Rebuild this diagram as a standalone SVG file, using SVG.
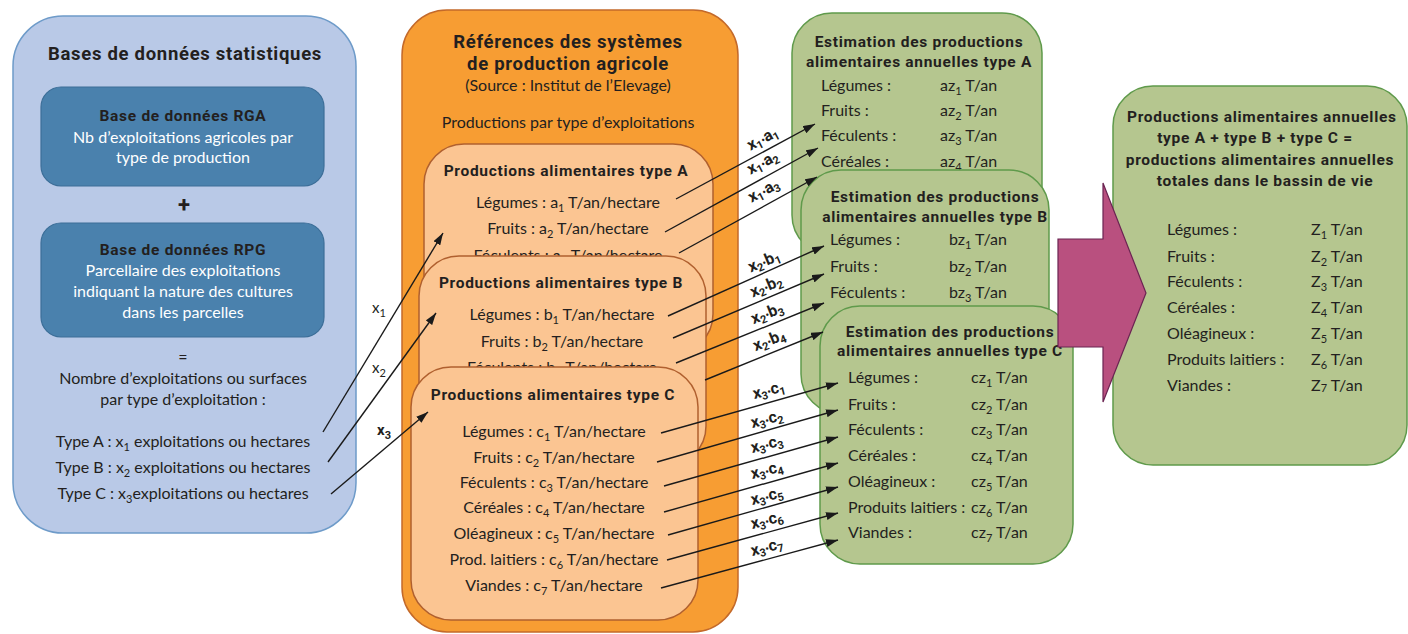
<svg xmlns="http://www.w3.org/2000/svg" width="1408" height="634" viewBox="0 0 1408 634">
<defs>
<marker id="ah" markerUnits="userSpaceOnUse" markerWidth="12" markerHeight="8" refX="12" refY="4" orient="auto">
<path d="M0,0 L12,4 L0,8 z" fill="#1a1a1a"/>
</marker>
<clipPath id="clipB4"><rect x="800" y="300" width="260" height="10"/></clipPath>
<style>
text{font-family:Lato,"Open Sans","Liberation Sans",sans-serif;fill:#231f20;font-size:16px}
.t1{font-family:Roboto,"Liberation Sans",sans-serif;font-weight:700;font-size:18.5px;letter-spacing:0.7px}
.t2{font-family:Roboto,"Liberation Sans",sans-serif;font-weight:700;font-size:15.5px;letter-spacing:0.7px}
.w{fill:#ffffff}
.c{text-anchor:middle}
.s{font-size:11px}
.plus{font-family:Roboto,"Liberation Sans",sans-serif;font-weight:700;font-size:22px}
.outerBlue{fill:#b9c9e7;stroke:#6e9bc9;stroke-width:1.5}
.innerBlue{fill:#4a81ad;stroke:#3c6e98;stroke-width:1.2}
.outerOr{fill:#f79d33;stroke:#c3692a;stroke-width:1.5}
.innerOr{fill:#fbc592;stroke:#b0602f;stroke-width:1.5}
.green{fill:#b5c68f;stroke:#5f9a4b;stroke-width:1.5}
.cn{stroke:#1a1a1a;stroke-width:1.4;fill:none;marker-end:url(#ah)}
.lb{font-family:Roboto,"Liberation Sans",sans-serif;font-weight:700;font-size:16px;text-anchor:middle}
.xl{font-size:15px}
.xb{font-family:Roboto,"Liberation Sans",sans-serif;font-weight:700;font-size:15px}
</style>
</defs>

<g id="bases">
<rect class="outerBlue" x="13" y="16" width="343" height="517" rx="50"/>
<text class="t1 c" x="185" y="60">Bases de données statistiques</text>
</g>
<g id="rga">
<rect class="innerBlue" x="41" y="87" width="283" height="99" rx="20"/>
<text class="t2 c" x="183" y="121">Base de données  RGA</text>
<text class="c w" x="183" y="143">Nb d’exploitations agricoles par</text>
<text class="c w" x="183" y="163">type de production</text>
</g>
<text class="plus c" x="184" y="212">+</text>
<g id="rpg">
<rect class="innerBlue" x="41" y="223" width="283" height="114" rx="20"/>
<text class="t2 c" x="183" y="255">Base de données RPG</text>
<text class="c w" x="183" y="276">Parcellaire des exploitations</text>
<text class="c w" x="183" y="297">indiquant la nature des cultures</text>
<text class="c w" x="183" y="318">dans les parcelles</text>
</g>
<g id="bases-result">
<text class="c" x="183" y="363">=</text>
<text class="c" x="183" y="384">Nombre d’exploitations ou surfaces</text>
<text class="c" x="183" y="405">par type d’exploitation :</text>
<text class="c" x="183" y="447">Type A : x<tspan class="s" dy="4">1</tspan><tspan dy="-4"> exploitations ou hectares</tspan></text>
<text class="c" x="183" y="473">Type B : x<tspan class="s" dy="4">2</tspan><tspan dy="-4"> exploitations ou hectares</tspan></text>
<text class="c" x="183" y="499">Type C : x<tspan class="s" dy="4">3</tspan><tspan dy="-4">exploitations ou hectares</tspan></text>
</g>

<g id="references">
<rect class="outerOr" x="402" y="10" width="336" height="622" rx="45"/>
<text class="t1 c" x="568" y="48">Références des systèmes</text>
<text class="t1 c" x="568" y="70">de production agricole</text>
<text class="c" x="568" y="91">(Source : Institut de l’Elevage)</text>
<text class="c" x="568" y="128">Productions par type d’exploitations</text>
</g>
<g id="prodA">
<rect class="innerOr" x="424" y="144" width="289" height="210" rx="40"/>
<text class="t2 c" x="566" y="176">Productions alimentaires type A</text>
<text class="c" x="568" y="208">Légumes : a<tspan class="s" dy="4">1</tspan><tspan dy="-4"> T/an/hectare</tspan></text>
<text class="c" x="568" y="234">Fruits : a<tspan class="s" dy="4">2</tspan><tspan dy="-4"> T/an/hectare</tspan></text>
<text class="c" x="568" y="261">Féculents : a<tspan class="s" dy="4">3</tspan><tspan dy="-4"> T/an/hectare</tspan></text>
</g>
<g id="prodB">
<rect class="innerOr" x="419" y="256" width="287" height="210" rx="40"/>
<text class="t2 c" x="561" y="288">Productions alimentaires type B</text>
<text class="c" x="562" y="320">Légumes : b<tspan class="s" dy="4">1</tspan><tspan dy="-4"> T/an/hectare</tspan></text>
<text class="c" x="562" y="347">Fruits : b<tspan class="s" dy="4">2</tspan><tspan dy="-4"> T/an/hectare</tspan></text>
<text class="c" x="562" y="373">Féculents : b<tspan class="s" dy="4">3</tspan><tspan dy="-4"> T/an/hectare</tspan></text>
</g>
<g id="prodC">
<rect class="innerOr" x="411" y="367" width="287" height="253" rx="40"/>
<text class="t2 c" x="553" y="400">Productions alimentaires type C</text>
<text class="c" x="554" y="437">Légumes : c<tspan class="s" dy="4">1</tspan><tspan dy="-4"> T/an/hectare</tspan></text>
<text class="c" x="554" y="463">Fruits : c<tspan class="s" dy="4">2</tspan><tspan dy="-4"> T/an/hectare</tspan></text>
<text class="c" x="554" y="488">Féculents : c<tspan class="s" dy="4">3</tspan><tspan dy="-4"> T/an/hectare</tspan></text>
<text class="c" x="554" y="513">Céréales : c<tspan class="s" dy="4">4</tspan><tspan dy="-4"> T/an/hectare</tspan></text>
<text class="c" x="554" y="539">Oléagineux : c<tspan class="s" dy="4">5</tspan><tspan dy="-4"> T/an/hectare</tspan></text>
<text class="c" x="554" y="565">Prod. laitiers : c<tspan class="s" dy="4">6</tspan><tspan dy="-4"> T/an/hectare</tspan></text>
<text class="c" x="554" y="591">Viandes : c<tspan class="s" dy="4">7</tspan><tspan dy="-4"> T/an/hectare</tspan></text>
</g>

<g id="estA">
<rect class="green" x="792" y="13" width="250" height="242" rx="40"/>
<text class="t2 c" x="919" y="47">Estimation des productions</text>
<text class="t2 c" x="919" y="67">alimentaires annuelles type A</text>
<text x="821" y="91">Légumes :</text><text x="940" y="91">az<tspan class="s" dy="4">1</tspan><tspan dy="-4"> T/an</tspan></text>
<text x="821" y="116">Fruits :</text><text x="940" y="116">az<tspan class="s" dy="4">2</tspan><tspan dy="-4"> T/an</tspan></text>
<text x="821" y="141">Féculents :</text><text x="940" y="141">az<tspan class="s" dy="4">3</tspan><tspan dy="-4"> T/an</tspan></text>
<text x="821" y="167">Céréales :</text><text x="940" y="167">az<tspan class="s" dy="4">4</tspan><tspan dy="-4"> T/an</tspan></text>
</g>
<g id="estB">
<rect class="green" x="801" y="170" width="248" height="244" rx="40"/>
<text class="t2 c" x="935" y="202">Estimation des productions</text>
<text class="t2 c" x="935" y="222">alimentaires annuelles type B</text>
<text x="830" y="245">Légumes :</text><text x="949" y="245">bz<tspan class="s" dy="4">1</tspan><tspan dy="-4"> T/an</tspan></text>
<text x="830" y="272">Fruits :</text><text x="949" y="272">bz<tspan class="s" dy="4">2</tspan><tspan dy="-4"> T/an</tspan></text>
<text x="830" y="298">Féculents :</text><text x="949" y="298">bz<tspan class="s" dy="4">3</tspan><tspan dy="-4"> T/an</tspan></text>
<text x="830" y="324" clip-path="url(#clipB4)">Céréales :</text>
</g>
<g id="estC">
<rect class="green" x="820" y="306" width="253" height="258" rx="40"/>
<text class="t2 c" x="950" y="337">Estimation des productions</text>
<text class="t2 c" x="950" y="356">alimentaires annuelles type C</text>
<text x="848" y="383">Légumes :</text><text x="971" y="383">cz<tspan class="s" dy="4">1</tspan><tspan dy="-4"> T/an</tspan></text>
<text x="848" y="410">Fruits :</text><text x="971" y="410">cz<tspan class="s" dy="4">2</tspan><tspan dy="-4"> T/an</tspan></text>
<text x="848" y="435">Féculents :</text><text x="971" y="435">cz<tspan class="s" dy="4">3</tspan><tspan dy="-4"> T/an</tspan></text>
<text x="848" y="461">Céréales :</text><text x="971" y="461">cz<tspan class="s" dy="4">4</tspan><tspan dy="-4"> T/an</tspan></text>
<text x="848" y="487">Oléagineux :</text><text x="971" y="487">cz<tspan class="s" dy="4">5</tspan><tspan dy="-4"> T/an</tspan></text>
<text x="848" y="513">Produits laitiers :</text><text x="971" y="513">cz<tspan class="s" dy="4">6</tspan><tspan dy="-4"> T/an</tspan></text>
<text x="848" y="538">Viandes :</text><text x="971" y="538">cz<tspan class="s" dy="4">7</tspan><tspan dy="-4"> T/an</tspan></text>
</g>

<g id="total">
<rect class="green" x="1113" y="86" width="294" height="379" rx="40"/>
<text class="t2" x="1127" y="122">Productions  alimentaires annuelles</text>
<text class="t2 c" x="1255" y="143">type A + type B + type C =</text>
<text class="t2 c" x="1260" y="165">productions alimentaires annuelles</text>
<text class="t2 c" x="1265" y="186">totales dans le bassin de vie</text>
<text x="1167" y="235">Légumes :</text><text x="1311" y="235">Z<tspan class="s" dy="4">1</tspan><tspan dy="-4"> T/an</tspan></text>
<text x="1167" y="262">Fruits :</text><text x="1311" y="262">Z<tspan class="s" dy="4">2</tspan><tspan dy="-4"> T/an</tspan></text>
<text x="1167" y="287">Féculents :</text><text x="1311" y="287">Z<tspan class="s" dy="4">3</tspan><tspan dy="-4"> T/an</tspan></text>
<text x="1167" y="313">Céréales :</text><text x="1311" y="313">Z<tspan class="s" dy="4">4</tspan><tspan dy="-4"> T/an</tspan></text>
<text x="1167" y="339">Oléagineux :</text><text x="1311" y="339">Z<tspan class="s" dy="4">5</tspan><tspan dy="-4"> T/an</tspan></text>
<text x="1167" y="365">Produits laitiers :</text><text x="1311" y="365">Z<tspan class="s" dy="4">6</tspan><tspan dy="-4"> T/an</tspan></text>
<text x="1167" y="391">Viandes :</text><text x="1311" y="391">Z<tspan class="s" dy="1">7</tspan><tspan dy="-1"> T/an</tspan></text>
</g>

<g id="bigArrow">
<path d="M1058,239 L1103,239 L1103,183 L1146,293 L1103,402 L1103,347 L1058,347 Z" fill="#b9507f" stroke="#6b2452" stroke-width="1.2"/>
</g>

<g id="connectors">
<line class="cn" x1="323" y1="432" x2="443" y2="233"/>
<line class="cn" x1="328" y1="462" x2="436" y2="313"/>
<line class="cn" x1="331" y1="494" x2="428" y2="412"/>
<text class="xl" x="372" y="313">x<tspan class="s" dy="4">1</tspan></text>
<text class="xl" x="372" y="373">x<tspan class="s" dy="4">2</tspan></text>
<text class="xb" x="377" y="435">x<tspan class="s" dy="4">3</tspan></text>

<line class="cn" x1="676" y1="199" x2="815" y2="124"/>
<line class="cn" x1="665" y1="232" x2="818" y2="148"/>
<line class="cn" x1="679" y1="253" x2="817" y2="177"/>
<line class="cn" x1="668" y1="316" x2="824" y2="246"/>
<line class="cn" x1="673" y1="338" x2="824" y2="274"/>
<line class="cn" x1="676" y1="363" x2="824" y2="303"/>
<line class="cn" x1="705" y1="380" x2="823" y2="332"/>
<line class="cn" x1="661" y1="433" x2="838" y2="383"/>
<line class="cn" x1="657" y1="462" x2="838" y2="410"/>
<line class="cn" x1="664" y1="486" x2="838" y2="437"/>
<line class="cn" x1="664" y1="512" x2="838" y2="463"/>
<line class="cn" x1="668" y1="535" x2="838" y2="487"/>
<line class="cn" x1="667" y1="560" x2="838" y2="513"/>
<line class="cn" x1="661" y1="588" x2="838" y2="540"/>

<text class="lb" transform="translate(765,143) rotate(-28)">x<tspan class="s" dy="3">1</tspan><tspan dy="-3" font-size="10">•</tspan>a<tspan class="s" dy="3">1</tspan></text>
<text class="lb" transform="translate(765,167) rotate(-28)">x<tspan class="s" dy="3">1</tspan><tspan dy="-3" font-size="10">•</tspan>a<tspan class="s" dy="3">2</tspan></text>
<text class="lb" transform="translate(766,195) rotate(-28)">x<tspan class="s" dy="3">1</tspan><tspan dy="-3" font-size="10">•</tspan>a<tspan class="s" dy="3">3</tspan></text>
<text class="lb" transform="translate(766,266) rotate(-23)">x<tspan class="s" dy="3">2</tspan><tspan dy="-3" font-size="10">•</tspan>b<tspan class="s" dy="3">1</tspan></text>
<text class="lb" transform="translate(768,291) rotate(-23)">x<tspan class="s" dy="3">2</tspan><tspan dy="-3" font-size="10">•</tspan>b<tspan class="s" dy="3">2</tspan></text>
<text class="lb" transform="translate(769,318) rotate(-22)">x<tspan class="s" dy="3">2</tspan><tspan dy="-3" font-size="10">•</tspan>b<tspan class="s" dy="3">3</tspan></text>
<text class="lb" transform="translate(771,345) rotate(-22)">x<tspan class="s" dy="3">2</tspan><tspan dy="-3" font-size="10">•</tspan>b<tspan class="s" dy="3">4</tspan></text>
<text class="lb" transform="translate(770,395) rotate(-14)">x<tspan class="s" dy="3">3</tspan><tspan dy="-3" font-size="10">•</tspan>c<tspan class="s" dy="3">1</tspan></text>
<text class="lb" transform="translate(768,424) rotate(-14)">x<tspan class="s" dy="3">3</tspan><tspan dy="-3" font-size="10">•</tspan>c<tspan class="s" dy="3">2</tspan></text>
<text class="lb" transform="translate(768,449) rotate(-14)">x<tspan class="s" dy="3">3</tspan><tspan dy="-3" font-size="10">•</tspan>c<tspan class="s" dy="3">3</tspan></text>
<text class="lb" transform="translate(768,475) rotate(-14)">x<tspan class="s" dy="3">3</tspan><tspan dy="-3" font-size="10">•</tspan>c<tspan class="s" dy="3">4</tspan></text>
<text class="lb" transform="translate(768,501) rotate(-14)">x<tspan class="s" dy="3">3</tspan><tspan dy="-3" font-size="10">•</tspan>c<tspan class="s" dy="3">5</tspan></text>
<text class="lb" transform="translate(768,525) rotate(-14)">x<tspan class="s" dy="3">3</tspan><tspan dy="-3" font-size="10">•</tspan>c<tspan class="s" dy="3">6</tspan></text>
<text class="lb" transform="translate(768,552) rotate(-14)">x<tspan class="s" dy="3">3</tspan><tspan dy="-3" font-size="10">•</tspan>c<tspan class="s" dy="3">7</tspan></text>
</g>
</svg>
